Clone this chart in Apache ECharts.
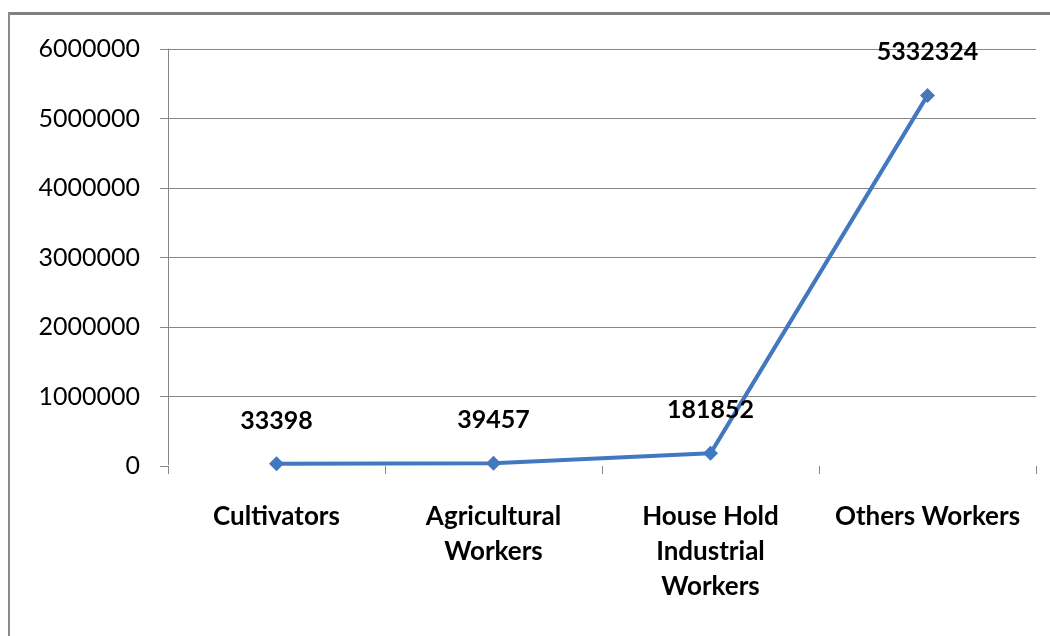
<!DOCTYPE html>
<html>
<head>
<meta charset="utf-8">
<style>
  html, body { margin: 0; padding: 0; background: #fff; }
  #main { width: 1050px; height: 636px; }
</style>
<script src="https://cdn.jsdelivr.net/npm/echarts@6/dist/echarts.min.js"></script>
</head>
<body>
<div id="main"></div>
<script>
// categories and values
const categories = ['Cultivators', 'Agricultural\nWorkers', 'House Hold\nIndustrial\nWorkers', 'Others Workers']
const workers = [33398, 39457, 181852, 5332324]
const yTicks = { min: 0, max: 6000000, step: 1000000 }

const gridColor = '#868686'
const lineColor = '#4178c0'
const font = 'Lato, "Open Sans", sans-serif'

const chart = echarts.init(document.getElementById('main'))

const option = {
    backgroundColor: '#fff',
    animation: false,
    // grey frame of the original picture (top bar + left edge)
    graphic: [
        { type: 'rect', shape: { x: 8, y: 12, width: 1042, height: 3 }, style: { fill: '#808080' } },
        { type: 'rect', shape: { x: 8, y: 12, width: 2, height: 624 }, style: { fill: '#8a8a8a' } }
    ],
    grid: {
        left: 168,
        right: 14,
        top: 49,
        bottom: 170
    },
    xAxis: {
        type: 'category',
        data: categories,
        boundaryGap: true,
        axisLine: { show: true, lineStyle: { color: '#fff', width: 2 } },
        axisTick: {
            show: true,
            length: 8,
            alignWithLabel: false,
            lineStyle: { color: gridColor, width: 1 }
        },
        axisLabel: {
            interval: 0,
            margin: 33,
            color: '#000',
            fontFamily: font,
            fontSize: 26,
            fontWeight: 'bold',
            lineHeight: 35,
            align: 'center'
        }
    },
    yAxis: {
        type: 'value',
        min: yTicks.min,
        max: yTicks.max,
        interval: yTicks.step,
        axisLine: { show: true, lineStyle: { color: gridColor, width: 1 } },
        axisTick: { show: true, length: 8, lineStyle: { color: gridColor } },
        splitLine: { show: true, lineStyle: { color: gridColor, width: 1 } },
        axisLabel: {
            margin: 28,
            color: '#000',
            fontFamily: font,
            fontSize: 25,
            formatter: v => String(v)
        }
    },
    series: [{
        type: 'line',
        data: workers,
        symbol: 'diamond',
        symbolSize: 15,
        itemStyle: { color: lineColor },
        lineStyle: { color: lineColor, width: 4 },
        label: {
            show: true,
            position: 'top',
            distance: 23,
            color: '#000',
            fontFamily: font,
            fontSize: 25,
            fontWeight: 'bold'
        },
        z: 5
    }]
}

chart.setOption(option)
</script>
</body>
</html>
